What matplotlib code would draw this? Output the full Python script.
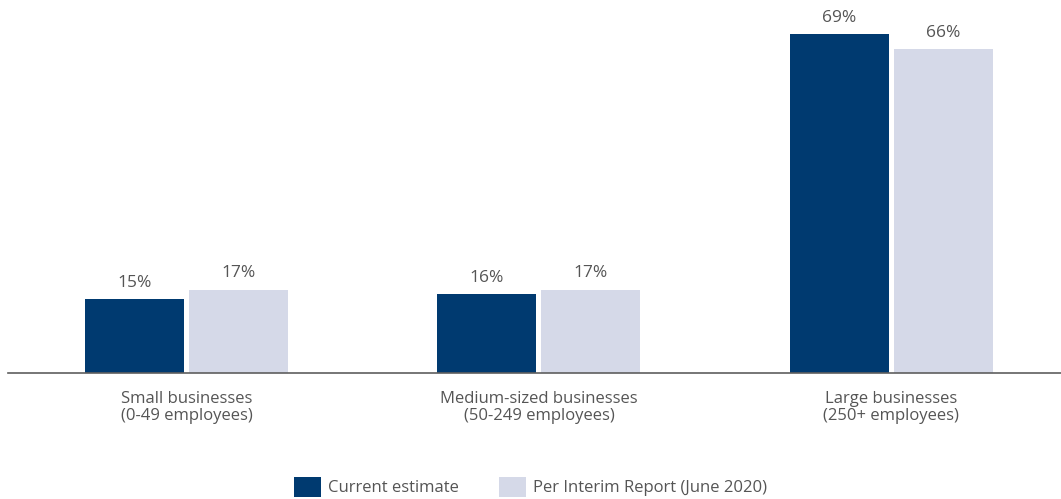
import numpy as np
import matplotlib
matplotlib.use('Agg')
import matplotlib.pyplot as plt

categories = ['Small businesses\n(0-49 employees)',
              'Medium-sized businesses\n(50-249 employees)',
              'Large businesses\n(250+ employees)']
current = [15, 16, 69]
interim = [17, 17, 66]
series_names = ['Current estimate', 'Per Interim Report (June 2020)']

DARK = '#003a70'
LIGHT = '#d5d9e8'
TEXT = '#555555'

plt.rcParams['font.family'] = ['Open Sans', 'DejaVu Sans']

W, H = 1061, 499
fig = plt.figure(figsize=(W / 100, H / 100), dpi=100)
ax = fig.add_axes([8 / W, (H - 373) / H, 1053 / W, 373 / H])

x = np.arange(len(categories))
bw = 0.281
off = 0.1475
b1 = ax.bar(x - off, current, bw, color=DARK, label=series_names[0])
b2 = ax.bar(x + off, interim, bw, color=LIGHT, label=series_names[1])

for bars, vals in [(b1, current), (b2, interim)]:
    for rect, v in zip(bars, vals):
        ax.annotate(f'{v}%', (rect.get_x() + rect.get_width() / 2, v),
                    xytext=(0, 6), textcoords='offset points',
                    ha='center', va='bottom', fontsize=12.5, color=TEXT)

ax.set_xlim(-0.506, 2.481)
ax.set_ylim(0, 76.0)
ax.set_xticks(x)
ax.set_xticklabels(categories, fontsize=12, color=TEXT, linespacing=1.1)
ax.tick_params(axis='x', length=0, pad=13)
ax.set_yticks([])
for s in ['top', 'right', 'left']:
    ax.spines[s].set_visible(False)
ax.spines['bottom'].set_color('#5f5f5f')
ax.spines['bottom'].set_linewidth(1.2)

fig.legend(handles=[b1, b2], labels=series_names, loc='center',
           bbox_to_anchor=(0.5, (H - 487) / H), ncol=2, frameon=False,
           fontsize=12, labelcolor=TEXT, handlelength=1.6, handleheight=1.5,
           handletextpad=0.45, columnspacing=2.4, borderaxespad=0)

fig.savefig('out.png', dpi=100)
